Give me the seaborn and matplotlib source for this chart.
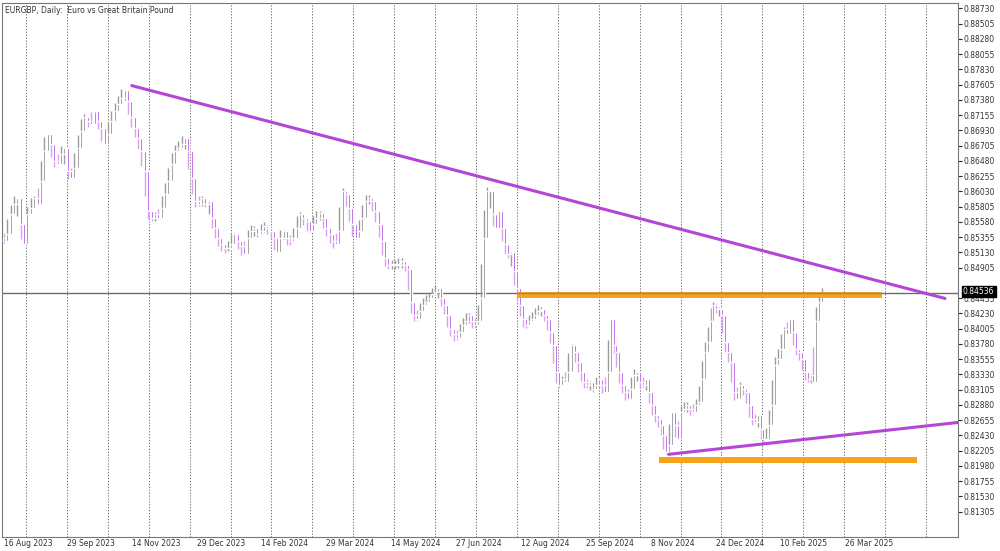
import numpy as np
import pandas as pd
import matplotlib
matplotlib.use("Agg")
import matplotlib.pyplot as plt
import seaborn as sns

closes_a = [0.8529,0.8540,0.8569,0.8584,0.8593,0.8555,0.8525,0.8569,0.8578,0.8593,0.8584,0.8618,0.8663,0.8688,0.8673,0.8648,0.8643,0.8658,0.8667,0.8633,0.8623,0.8638,0.8667,0.8692,0.8712,0.8707,0.8703,0.8722,0.8707,0.8697,0.8673,0.8688,0.8707,0.8722,0.8732,0.8741,0.8752,0.8737,0.8712,0.8697,0.8682,0.8663,0.8633,0.8574,0.8563,0.8569,0.8563,0.8578,0.8599,0.8618,0.8643,0.8663,0.8667,0.8673,0.8682,0.8663,0.8623,0.8589,0.8584,0.8593,0.8584,0.8589]
closes_b = [0.8563,0.8549,0.8534,0.8525,0.8519,0.8519,0.8525,0.8540,0.8529,0.8522,0.8510,0.8534,0.8544,0.8549,0.8540,0.8544,0.8552,0.8549,0.8544,0.8534,0.8514,0.8534,0.8544,0.8534,0.8529,0.8534,0.8549,0.8569,0.8563,0.8559,0.8544,0.8555,0.8563,0.8571,0.8563,0.8549,0.8540,0.8529,0.8525,0.8544,0.8603,0.8599,0.8578,0.8555,0.8534,0.8544,0.8563,0.8589,0.8593,0.8589,0.8574,0.8555,0.8529,0.8504,0.8495,0.8495,0.8495,0.8495,0.8500,0.8495,0.8489]
closes_c = [0.8440,0.8421,0.8415,0.8426,0.8436,0.8440,0.8445,0.8451,0.8455,0.8460,0.8445,0.8436,0.8421,0.8400,0.8392,0.8386,0.8396,0.8406,0.8411,0.8421,0.8411,0.8406,0.8411,0.8445,0.8534,0.8603,0.8603,0.8569,0.8549,0.8574,0.8549,0.8525,0.8510,0.8514,0.8485,0.8460,0.8436,0.8415,0.8406,0.8411,0.8415,0.8421,0.8426,0.8430,0.8421,0.8415,0.8396,0.8377,0.8337,0.8317,0.8326,0.8322,0.8337,0.8377,0.8366,0.8351,0.8337,0.8322,0.8317,0.8322,0.8311,0.8317,0.8326]
closes_d = [0.8317,0.8307,0.8337,0.8415,0.8377,0.8366,0.8337,0.8317,0.8307,0.8297,0.8311,0.8332,0.8337,0.8322,0.8317,0.8326,0.8307,0.8288,0.8273,0.8267,0.8258,0.8243,0.8218,0.8229,0.8277,0.8258,0.8237,0.8277,0.8282,0.8288,0.8282,0.8277,0.8288,0.8292,0.8326,0.8366,0.8381,0.8411,0.8436,0.8430,0.8430,0.8421,0.8381,0.8366,0.8351,0.8307,0.8297,0.8317,0.8311,0.8307,0.8288,0.8267,0.8263,0.8273,0.8252,0.8237,0.8237,0.8258,0.8288,0.8347,0.8356,0.8371,0.8400,0.8392,0.8415,0.8396,0.8371,0.8366,0.8356,0.8337,0.8326,0.8332,0.8322,0.8411,0.8440,0.84536]
segment_spans = [(2, 207), (210, 407), (410, 598), (601, 822)]
tick_labels = ["16 Aug 2023","29 Sep 2023","14 Nov 2023","29 Dec 2023","14 Feb 2024","29 Mar 2024","14 May 2024","27 Jun 2024","12 Aug 2024","25 Sep 2024","8 Nov 2024","24 Dec 2024","10 Feb 2025","26 Mar 2025"]
tick_px = [2,65,130,195,260,325,390,455,520,585,650,715,780,845]
yticks = [0.88730,0.88505,0.88280,0.88055,0.87830,0.87605,0.87380,0.87155,0.86930,0.86705,0.86480,0.86255,0.86030,0.85805,0.85580,0.85355,0.85130,0.84905,0.84455,0.84230,0.84005,0.83780,0.83555,0.83330,0.83105,0.82880,0.82655,0.82430,0.82205,0.81980,0.81755,0.81530,0.81305]
last_price = 0.84536
down_line = [(130, 0.8759), (945, 0.8445)]
up_line = [(668, 0.8215), (958, 0.8262)]
res_band = [(516, 882), 0.8450]
sup_band = [(658, 917), 0.8206]

segs = [closes_a, closes_b, closes_c, closes_d]
closes = np.array(sum(segs, []))
xs = np.concatenate([np.linspace(a, b, len(s)) for s, (a, b) in zip(segs, segment_spans)])
n = len(closes)
opens = np.concatenate([[closes[0] + 0.0005], closes[:-1]])
nxt = np.concatenate([closes[1:], [closes[-1]]])
highs = np.maximum.reduce([opens, closes, (closes + nxt) / 2 + 0.0007])
lows = np.minimum.reduce([opens, closes, (closes + nxt) / 2 - 0.0007])
df = pd.DataFrame(dict(x=xs, o=opens, c=closes, h=highs, l=lows))
df["up"] = df.c >= df.o

sns.set_style("white")
fig = plt.figure(figsize=(10, 5.51), dpi=100)
ax = fig.add_axes([0.002, 0.026, 0.956, 0.968])
ax.set_xlim(0, 958)
ax.set_ylim(0.8873 - 526 / 6748, 0.8873 + 5 / 6748)

for gx in np.arange(24, 958, 41):
    ax.axvline(gx, color="#555555", lw=0.6, ls=(0, (1.5, 2)), zorder=0)

for up, wc, bc in [(True, "#9a9a9a", "#6e6e6e"), (False, "#d9a0ee", "#a21fe0")]:
    d = df[df.up == up]
    ax.vlines(d.x, d.l, d.h, color=wc, lw=1.0, zorder=2)
    ax.bar(d.x, (d.c - d.o).abs().clip(lower=0.00010), bottom=np.minimum(d.o, d.c), width=2.0, color=bc, zorder=3)

ax.axhline(last_price, color="#6b6b6b", lw=1, zorder=1)
for (x0, x1), yv in [res_band, sup_band]:
    ax.fill_between([x0, x1], yv - 0.00045, yv + 0.00045, color="#f7a21b", zorder=4, lw=0)
ax.plot([res_band[0][0], res_band[0][1]], [last_price, last_price], color="#8a8a8a", lw=1, zorder=5)
ln = pd.DataFrame(down_line + up_line, columns=["x", "y"])
ln["g"] = ["a", "a", "b", "b"]
sns.lineplot(data=ln, x="x", y="y", units="g", estimator=None, color="#b545d6", lw=2.2, ax=ax, zorder=6)

ax.yaxis.tick_right()
ax.set_yticks(yticks)
ax.set_yticklabels([f"{v:.5f}" for v in yticks], fontsize=5.5, color="#333333")
ax.tick_params(axis="y", length=3, pad=1, direction="out", right=True)
ax.set_xticks(tick_px)
ax.set_xticklabels(tick_labels, fontsize=5.5, color="#333333", ha="left")
ax.tick_params(axis="x", length=0, pad=2)
ax.set_xlabel(""); ax.set_ylabel("")
for s in ax.spines.values():
    s.set_color("#777777"); s.set_linewidth(0.8)
ax.text(963, last_price + 0.0002, f"{last_price:.5f}", transform=ax.transData, fontsize=5.5, color="white",
        va="center", ha="left", bbox=dict(boxstyle="square,pad=0.15", fc="black", ec="black"), clip_on=False)
ax.text(3, 0.8873 + 2/6748, "EURGBP, Daily:  Euro vs Great Britain Pound", fontsize=5.5, va="top", color="#333333")
fig.savefig("out.png", dpi=100)
